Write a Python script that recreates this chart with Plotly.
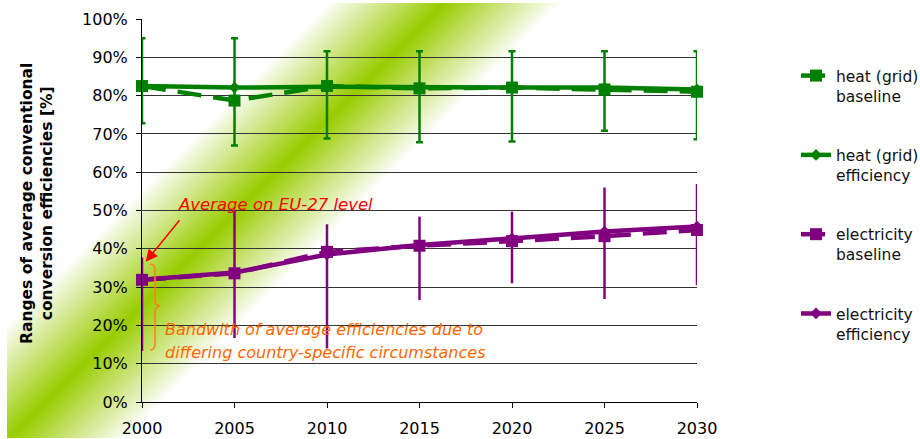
import base64
import plotly.graph_objects as go

# ---- data -------------------------------------------------------------
years = [2000, 2005, 2010, 2015, 2020, 2025, 2030]

heat_baseline = [0.825, 0.787, 0.825, 0.819, 0.821, 0.816, 0.810]
heat_efficiency = [0.825, 0.821, 0.823, 0.821, 0.821, 0.821, 0.816]
heat_range_high = [0.950, 0.950, 0.916, 0.916, 0.916, 0.916, 0.916]
heat_range_low = [0.728, 0.670, 0.688, 0.678, 0.680, 0.708, 0.686]

elec_baseline = [0.319, 0.336, 0.392, 0.408, 0.420, 0.433, 0.449]
elec_efficiency = [0.319, 0.338, 0.385, 0.410, 0.427, 0.445, 0.458]
elec_range_high = [0.377, 0.501, 0.464, 0.484, 0.497, 0.560, 0.569]
elec_range_low = [0.133, 0.167, 0.140, 0.266, 0.310, 0.269, 0.305]

GREEN = "#008000"
PURPLE = "#800080"
FONT = "DejaVu Sans"

# ---- figure geometry (pixels) -------------------------------------------
W, H = 920, 439
L, R, T, B = 142, 223, 19, 37
PW, PH = W - L - R, H - T - B


def px(x):
    return (x - L) / PW


def py(y):
    return (H - B - y) / PH


def err(center, hi, lo):
    return dict(
        type="data",
        array=[h - c for h, c in zip(hi, center)],
        arrayminus=[c - l for l, c in zip(lo, center)],
    )


fig = go.Figure()

fig.add_trace(go.Scatter(
    x=years, y=heat_baseline, name="heat (grid)<br>baseline",
    mode="lines+markers", legendgroup="g1", cliponaxis=False,
    line=dict(color=GREEN, width=4.5, dash="24px,12px"),
    marker=dict(symbol="square", size=12, color=GREEN),
    error_y=dict(**err(heat_baseline, heat_range_high, heat_range_low),
                 color=GREEN, thickness=2.5, width=3.5),
))
fig.add_trace(go.Scatter(
    x=years, y=heat_efficiency, name="heat (grid)<br>efficiency",
    mode="lines+markers", legendgroup="g2", cliponaxis=False,
    line=dict(color=GREEN, width=4.5),
    marker=dict(symbol="diamond", size=9, color=GREEN),
))
fig.add_trace(go.Scatter(
    x=years, y=elec_baseline, name="electricity<br>baseline",
    mode="lines+markers", legendgroup="g3", cliponaxis=False,
    line=dict(color=PURPLE, width=4.5, dash="24px,12px"),
    marker=dict(symbol="square", size=12, color=PURPLE),
    error_y=dict(**err(elec_baseline, elec_range_high, elec_range_low),
                 color=PURPLE, thickness=2.5, width=0),
))
fig.add_trace(go.Scatter(
    x=years, y=elec_efficiency, name="electricity<br>efficiency",
    mode="lines+markers", legendgroup="g4", cliponaxis=False,
    line=dict(color=PURPLE, width=4.5),
    marker=dict(symbol="diamond", size=9, color=PURPLE),
))

# diagonal green gradient band behind the chart
svg = f"""<svg xmlns="http://www.w3.org/2000/svg" width="{W}" height="{H}" viewBox="0 0 {W} {H}">
<defs><linearGradient id="band" gradientUnits="userSpaceOnUse" x1="165" y1="165" x2="283" y2="283">
<stop offset="0" stop-color="#ffffff"/>
<stop offset="0.5" stop-color="#99cc00"/>
<stop offset="1" stop-color="#ffffff"/>
</linearGradient></defs>
<rect x="7" y="3" width="{W - 7}" height="435" fill="url(#band)"/>
</svg>"""
band_src = "data:image/svg+xml;base64," + base64.b64encode(svg.encode()).decode()

fig.add_layout_image(dict(
    source=band_src, xref="paper", yref="paper",
    x=px(0), y=py(0), sizex=W / PW, sizey=H / PH,
    xanchor="left", yanchor="top", sizing="stretch", layer="below",
))

# curly brace marking the bandwidth at 2000
brace = (f"M {px(150)},{py(264)} Q {px(155)},{py(264)} {px(155)},{py(270)} "
         f"L {px(155)},{py(300)} Q {px(155)},{py(305)} {px(160)},{py(306)} "
         f"Q {px(155)},{py(307)} {px(155)},{py(312)} "
         f"L {px(155)},{py(344)} Q {px(155)},{py(350)} {px(150)},{py(350)}")
fig.add_shape(type="path", path=brace, xref="paper", yref="paper",
              line=dict(color="#ff7f1a", width=1.5))

annotations = [
    dict(text="<b>Ranges of average conventional<br>conversion efficiencies [%]</b>",
         xref="paper", yref="paper", x=px(37), y=py(204), textangle=-90,
         showarrow=False, xanchor="center", yanchor="middle",
         font=dict(family=FONT, size=15.5, color="#000000")),
    dict(text="<i>Average on EU-27 level</i>", xref="paper", yref="paper",
         x=px(176), y=py(204), xanchor="left", yanchor="middle", showarrow=False,
         font=dict(family=FONT, size=16.5, color="#ff0000")),
    dict(text="", x=2000.2, y=0.366, xref="x", yref="y",
         showarrow=True, ax=35, ay=-43, arrowcolor="#ff0000",
         arrowwidth=1.5, arrowhead=2, arrowsize=1.6),
    dict(text="<i>Bandwith of average efficiencies due to</i>", xref="paper", yref="paper",
         x=px(163), y=py(329), xanchor="left", yanchor="middle", showarrow=False,
         font=dict(family=FONT, size=16, color="#ff6600")),
    dict(text="<i>differing country-specific circumstances</i>", xref="paper", yref="paper",
         x=px(163), y=py(352), xanchor="left", yanchor="middle", showarrow=False,
         font=dict(family=FONT, size=16, color="#ff6600")),
]

fig.update_layout(
    width=W, height=H,
    margin=dict(l=L, r=R, t=T, b=B, autoexpand=False),
    paper_bgcolor="#ffffff", plot_bgcolor="rgba(0,0,0,0)",
    font=dict(family=FONT, size=16, color="#000000"),
    annotations=annotations,
    showlegend=True,
    legend=dict(
        x=px(796), y=py(59), xanchor="left", yanchor="top",
        traceorder="grouped", tracegroupgap=36, valign="top",
        font=dict(family=FONT, size=15.5, color="#111111"),
        bgcolor="rgba(0,0,0,0)",
    ),
    xaxis=dict(
        range=[2000, 2030], tickmode="array", tickvals=years,
        ticktext=[str(y) for y in years],
        showgrid=False, zeroline=False, showline=True,
        linecolor="#000000", linewidth=1,
        ticks="outside", ticklen=5, tickcolor="#000000",
        ticklabelstandoff=7,
        tickfont=dict(family=FONT, size=16),
    ),
    yaxis=dict(
        range=[0, 1], dtick=0.1, tickformat=".0%",
        showgrid=True, gridcolor="#333333", gridwidth=1,
        zeroline=False, showline=True, linecolor="#000000", linewidth=1,
        ticks="outside", ticklen=5, tickcolor="#000000",
        ticklabelstandoff=5,
        tickfont=dict(family=FONT, size=16),
    ),
)

fig.write_html("out.html")
